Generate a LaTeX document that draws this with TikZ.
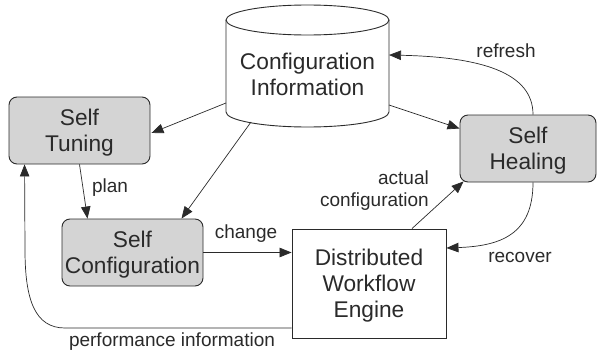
\documentclass[tikz,border=0pt]{standalone}
\usepackage{fontspec}
\setmainfont{Liberation Sans}
\usetikzlibrary{arrows.meta,calc}
\definecolor{boxgray}{HTML}{D4D4D4}
\definecolor{ink}{HTML}{2A2A2A}
\tikzset{
  box/.style={draw=ink, line width=0.9pt, align=center, inner sep=0pt, text depth=0pt,
    font=\fontsize{22.7}{26}\selectfont, text=ink},
  roundbox/.style={box, fill=boxgray, rounded corners=8pt},
  arr/.style={draw=ink, line width=0.7pt, -{Triangle[length=12pt,width=9.5pt]}},
  lbl/.style={font=\fontsize{19}{22}\selectfont, text=ink, inner sep=0pt, align=right},
}
\begin{document}
\begin{tikzpicture}[x=1pt,y=-1pt]
\useasboundingbox (0,0) rectangle (597,356);
% cylinder
\draw[draw=ink, line width=0.9pt] (226,20) -- (226,112) arc[start angle=180,end angle=0,x radius=81.5,y radius=15] -- (389,20);
\draw[draw=ink, line width=0.9pt] (307.5,20) ellipse[x radius=81.5, y radius=15];
\node[box, draw=none, minimum width=163pt, minimum height=76pt] (cfg) at (307.5,74) {Configuration\\Information};
\coordinate (c1) at (226,103);
\coordinate (c2) at (251,122);
\coordinate (c3) at (389,105);
\coordinate (c4) at (389,55);
% boxes
\node[roundbox, minimum width=141pt, minimum height=67pt] (tuning) at (79.5,130.5) {Self\\Tuning};
\node[roundbox, minimum width=136pt, minimum height=67pt] (heal) at (528,148.5) {Self\\Healing};
\node[roundbox, minimum width=141pt, minimum height=67pt] (sc) at (132.5,252.5) {Self\\Configuration};
\node[box, minimum width=154pt, minimum height=109pt] (dwe) at (369,283.5) {Distributed\\Workflow\\Engine};
% connectors
\draw[arr] (c1) -- ($(tuning.east)+(1,2.5)$);
\draw[arr] (c2) -- ($(sc.north)+(49,0)$);
\draw[arr] (c3) -- ($(heal.west)+(0,-20)$);
\draw[arr] (tuning.south) -- ($(sc.north)+(-45,0)$);
\draw[arr] (sc.east) -- (sc.east -| dwe.west);
\draw[arr] ($(dwe.north)+(43,0)$) -- ($(heal.south west)+(4,-1)$);
\draw[arr] ($(heal.north)+(5,0)$) .. controls (533,72) and (480,57) .. (c4);
\draw[arr] ($(heal.south)+(5,0)$) .. controls (533,235) and (500,246) .. ($(dwe.east)+(0,-35.5)$);
\draw[arr] ($(dwe.west)+(0,44.5)$) -- (65,328) .. controls (35,328) and (25,300) .. (25,250) -- ($(tuning.south west)+(16,0)$);
% labels
\node[lbl] (lplan) at (110,188) {plan};
\node[lbl] (lchange) at (246,234) {change};
\node[lbl, anchor=east] (lactual) at (429,191) {actual\\configuration};
\node[lbl] (lrefresh) at (506,51) {refresh};
\node[lbl] (lrecover) at (520,257) {recover};
\node[lbl] (lperf) at (172,342) {performance information};
\end{tikzpicture}
\end{document}
